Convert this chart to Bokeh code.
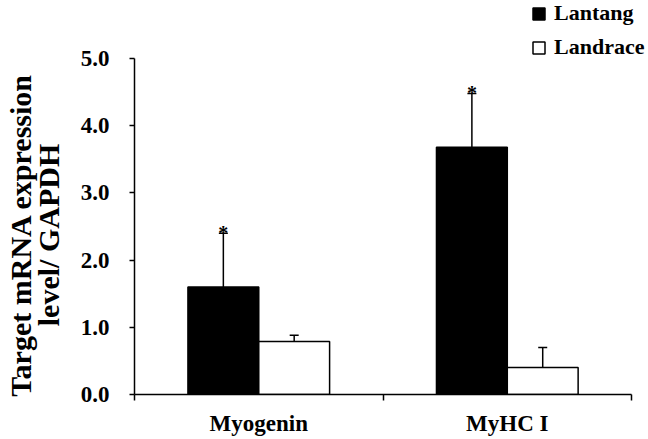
from bokeh.plotting import figure
from bokeh.models import (ColumnDataSource, Range1d, FixedTicker, Whisker, TeeHead,
                          Legend, LegendItem, PrintfTickFormatter)
from bokeh.transform import dodge
from bokeh.core.properties import value
from bokeh.embed import file_html
from bokeh.resources import INLINE
import numpy as np

categories = ["Myogenin", "MyHC I"]
lantang = [1.60, 3.68]
lantang_err = [0.80, 0.80]
landrace = [0.79, 0.40]
landrace_err = [0.09, 0.30]
significance = ["*", "*"]
y_ticks = [0, 1, 2, 3, 4, 5]
y_title_lines = ["Target mRNA expression", "level/ GAPDH"]

FONT = "Liberation Serif"
BW = 0.285

# layout (pixels): axis area 132..631 horizontally, 58..394 vertically
W, H = 648, 439
LEFT, RIGHT_AXIS, TOP_AXIS, BOTTOM = 132, 631, 58, 394
YMAX = 5.0
ncat = len(categories)
x_end = ncat * (W - LEFT) / (RIGHT_AXIS - LEFT)
y_end = YMAX * (BOTTOM - 0) / (BOTTOM - TOP_AXIS)

centers = np.arange(ncat) + 0.5
src = ColumnDataSource(dict(
    x=centers,
    xl=centers - BW / 2,
    xr=centers + BW / 2,
    lantang=lantang,
    lan_up=np.array(lantang) + np.array(lantang_err),
    landrace=landrace,
    lnd_up=np.array(landrace) + np.array(landrace_err),
    sig=significance,
))

p = figure(width=W, height=H, output_backend="svg", toolbar_location=None,
           x_range=Range1d(0, x_end), y_range=Range1d(0, y_end),
           min_border_left=LEFT, min_border_right=0, min_border_top=0,
           min_border_bottom=H - BOTTOM)
p.outline_line_color = None
p.xgrid.visible = False
p.ygrid.visible = False
p.background_fill_color = "white"

x_lan = dodge("x", -BW / 2, range=p.x_range)
x_lnd = dodge("x", BW / 2, range=p.x_range)

r1 = p.vbar(x=x_lan, top="lantang", width=BW, source=src,
            fill_color="black", line_color="black", line_width=1.5)
r2 = p.vbar(x=x_lnd, top="landrace", width=BW, source=src,
            fill_color="white", line_color="black", line_width=1.5)

w1 = Whisker(source=src, base="xl", lower="lantang", upper="lan_up",
             upper_head=TeeHead(size=9, line_width=1.5, line_color="black"),
             lower_head=None, line_width=1.5, line_color="black")
w2 = Whisker(source=src, base="xr", lower="landrace", upper="lnd_up",
             upper_head=TeeHead(size=9, line_width=1.5, line_color="black"),
             lower_head=None, line_width=1.5, line_color="black")
p.add_layout(w1)
p.add_layout(w2)

p.text(x="xl", y="lan_up", text="sig", source=src, text_align="center",
       text_baseline="alphabetic", text_font=value(FONT), text_font_size="20px",
       text_font_style="bold", text_color="black")

# y axis (label centred on the 0..5 axis span: pad the line ends so that the
# centre moves down from the full frame centre)
pad = "\u00a0" * 10
ya = p.yaxis[0]
ya.bounds = (0, YMAX)
ya.ticker = FixedTicker(ticks=y_ticks, minor_ticks=[])
ya.formatter = PrintfTickFormatter(format="%.1f")
ya.axis_label = "\n".join(line + pad for line in y_title_lines)
ya.axis_label_text_font = FONT
ya.axis_label_text_font_style = "bold"
ya.axis_label_text_font_size = "30px"
ya.axis_label_text_color = "black"
ya.axis_label_text_line_height = 0.85
ya.axis_label_standoff = 13
ya.major_label_text_font = FONT
ya.major_label_text_font_style = "bold"
ya.major_label_text_font_size = "23px"
ya.major_label_text_color = "black"
ya.major_label_standoff = 20
ya.major_tick_out = 5
ya.major_tick_in = 0
ya.axis_line_width = 1.5
ya.major_tick_line_width = 1.5
ya.axis_line_color = "black"
ya.major_tick_line_color = "black"

# x axis
xa = p.xaxis[0]
xa.bounds = (0, ncat)
xa.ticker = FixedTicker(ticks=list(centers), minor_ticks=list(range(ncat + 1)))
xa.major_label_overrides = {float(c): n for c, n in zip(centers, categories)}
xa.major_tick_out = 0
xa.major_tick_in = 0
xa.minor_tick_out = 6
xa.minor_tick_in = 0
xa.minor_tick_line_width = 1.5
xa.minor_tick_line_color = "black"
xa.axis_line_width = 1.5
xa.axis_line_color = "black"
xa.major_label_text_font = FONT
xa.major_label_text_font_style = "bold"
xa.major_label_text_font_size = "23px"
xa.major_label_text_color = "black"
xa.major_label_standoff = 10

legend = Legend(items=[LegendItem(label="Lantang", renderers=[r1]),
                       LegendItem(label="Landrace", renderers=[r2])],
                location=(397, BOTTOM - 60), orientation="vertical",
                glyph_width=15, glyph_height=15, label_standoff=8,
                label_text_font=FONT, label_text_font_style="bold",
                label_text_font_size="22px", label_text_color="black",
                label_height=22, spacing=8, padding=0, margin=0,
                border_line_color=None, background_fill_alpha=0)
p.add_layout(legend, "center")

open("out.html", "w").write(file_html(p, INLINE))
